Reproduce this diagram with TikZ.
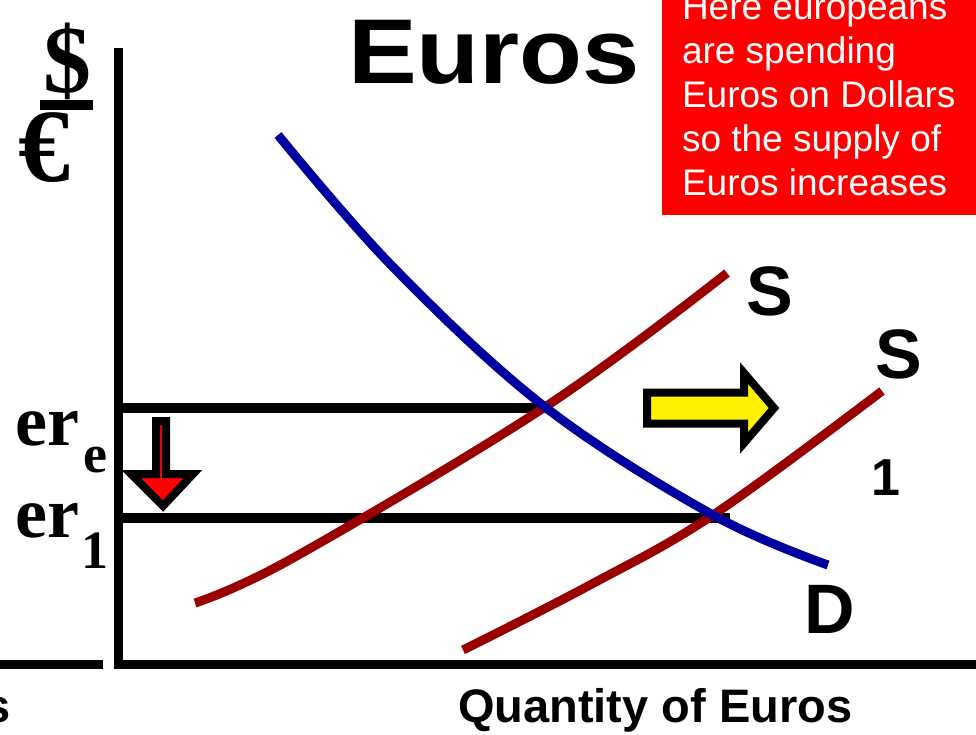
\documentclass[tikz,border=0pt]{standalone}
\usepackage{fontspec}
\setmainfont{Liberation Serif}
\setsansfont{Liberation Sans}
\usetikzlibrary{positioning}
\definecolor{dblue}{RGB}{0,0,160}
\definecolor{dred}{RGB}{153,0,0}
\newcommand{\fsz}[1]{\fontsize{#1}{#1}\selectfont}
\newcommand{\lowsub}[3]{\hspace{#2pt}\raisebox{-#1pt}{\fsz{54}#3}}

\begin{document}
\begin{tikzpicture}[x=1pt, y=-1pt,
    every node/.style={inner sep=0pt, outer sep=0pt},
    lbl/.style={font=\sffamily\bfseries\fsz{70}, anchor=base},
    rate/.style={font=\rmfamily\bfseries\fsz{72}, anchor=base west},
    axis/.style={line width=9pt},
    level/.style={line width=10pt},
    curve/.style={line width=9pt},
    blockarrow/.style={line width=8pt, line join=miter, miter limit=10}
]
\clip (0,0) rectangle (976,734);

\fill[red] (662,0) rectangle (976,215);
\node[anchor=base west, align=left, text=white, font=\sffamily\fontsize{37}{44}\selectfont] (note) at (682,195)
    {Here europeans\\are spending\\Euros on Dollars\\so the supply of\\Euros increases};

\node[anchor=base west, font=\sffamily\bfseries\fsz{92}] (title) at (348,83) {\scalebox{1.12}[1]{Euros}};

\node[font=\rmfamily\bfseries\fsz{96}] (dollar) at (67,61) {\$};
\node[font=\rmfamily\bfseries\fsz{104}] (euro) at (44,148) {€};
\draw[level] (40,105) -- (93,105);

\coordinate (origin) at (118,664);
\draw[axis] (118,48) -- (118,669);
\draw[axis] (114,664) -- (976,664);
\draw[axis] (0,664) -- (103,664);

\node[anchor=base east, font=\sffamily\bfseries\fsz{47}] (cutoff) at (11,722) {s};
\node[anchor=base west, font=\sffamily\bfseries\fsz{47}] (qty) at (458,722) {Quantity of Euros};

\coordinate (eqe) at (545,408);
\coordinate (eq1) at (730,518);
\draw[level] (114,408) -- (eqe);
\draw[level] (114,518) -- (eq1);

\node[rate] (ere) at (16,445) {er\lowsub{27}{4}{e}};
\node[rate] (er1) at (16,537) {er\lowsub{31}{2}{1}};

\draw[curve, dred] plot[smooth, tension=0.6] coordinates {(195,603) (293,558) (545,407) (727,273)};
\draw[curve, dred] plot[smooth, tension=0.6] coordinates {(463,650) (590,585) (713,515) (882,391)};
\draw[curve, dblue] plot[smooth, tension=0.6] coordinates {(278,135) (393,267) (545,407) (713,515) (828,565)};

\node[lbl] (s) at (770,315) {S};
\node[lbl] (s1) at (899,378) {S};
\node[lbl, font=\sffamily\bfseries\fsz{52}] (sub1) at (886,495) {1};
\node[lbl] (d) at (830,633) {D};

\draw[blockarrow, fill=yellow] (647,392.5) -- (744,392.5) -- (744,373) -- (774,408)
    -- (744,443) -- (744,423.5) -- (647,423.5) -- cycle;
\draw[blockarrow, fill=red] (156,421) -- (166,421) -- (166,474) -- (193,474)
    -- (163,506) -- (131,474) -- (156,474) -- cycle;
\end{tikzpicture}
\end{document}
